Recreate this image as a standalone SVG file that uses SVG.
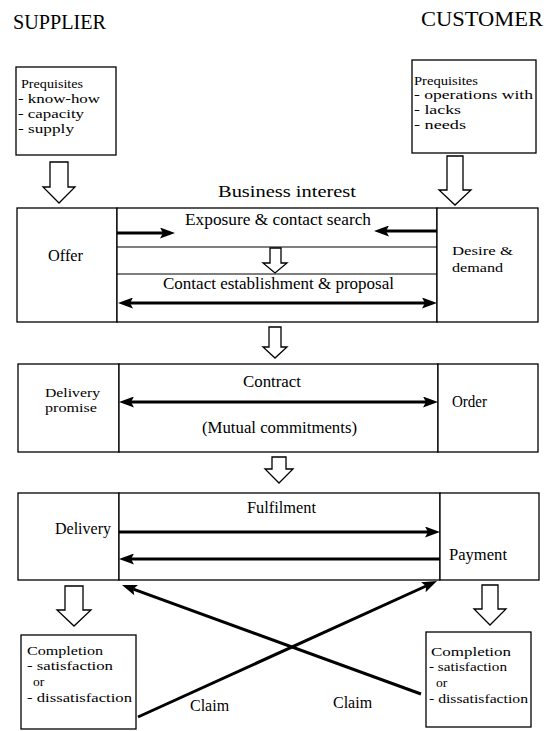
<svg xmlns="http://www.w3.org/2000/svg" width="548" height="731" viewBox="0 0 548 731">
  <style>
    text { font-family: "Liberation Serif", "Times New Roman", serif; font-size: 16px; fill: #000; }
    .head { font-size: 20px; }
    .sm { font-size: 13.5px; }
    .box { fill: #fff; stroke: #000; stroke-width: 1.3; }
    .rule { stroke: #000; stroke-width: 1.2; fill: none; }
    .flow { fill: #fff; stroke: #000; stroke-width: 1.3; stroke-linejoin: miter; }
    .thick { stroke: #000; stroke-width: 3; fill: none; }
    .one { marker-end: url(#head); }
    .two { marker-start: url(#head); marker-end: url(#head); }
  </style>
  <defs>
    <marker id="head" markerUnits="userSpaceOnUse" markerWidth="15" markerHeight="11" refX="3" refY="5.5" orient="auto-start-reverse">
      <path d="M0,0 L15,5.5 L0,11 L3,5.5 Z" fill="#000"/>
    </marker>
  </defs>
  <rect width="548" height="731" fill="#fff"/>

  <!-- column headings -->
  <g id="supplier-heading">
    <text class="head" x="13" y="29" textLength="93" lengthAdjust="spacingAndGlyphs">SUPPLIER</text>
  </g>
  <g id="customer-heading">
    <text class="head" x="421" y="26" textLength="122" lengthAdjust="spacingAndGlyphs">CUSTOMER</text>
  </g>

  <!-- prerequisites -->
  <g id="supplier-prequisites">
    <rect class="box" x="16" y="67" width="100" height="88"/>
    <text class="sm" x="21" y="88" textLength="62" lengthAdjust="spacingAndGlyphs">Prequisites</text>
    <text class="sm" x="18" y="103" textLength="82" lengthAdjust="spacingAndGlyphs">- know-how</text>
    <text class="sm" x="18" y="118" textLength="66" lengthAdjust="spacingAndGlyphs">- capacity</text>
    <text class="sm" x="18" y="133" textLength="56" lengthAdjust="spacingAndGlyphs">- supply</text>
  </g>
  <g id="customer-prequisites">
    <rect class="box" x="412" y="60" width="124" height="93"/>
    <text class="sm" x="414" y="85" textLength="64" lengthAdjust="spacingAndGlyphs">Prequisites</text>
    <text class="sm" x="414" y="99" textLength="119" lengthAdjust="spacingAndGlyphs">- operations with</text>
    <text class="sm" x="414" y="114" textLength="47" lengthAdjust="spacingAndGlyphs">- lacks</text>
    <text class="sm" x="414" y="129" textLength="52" lengthAdjust="spacingAndGlyphs">- needs</text>
  </g>

  <g id="business-interest">
    <text x="218" y="197" textLength="138" lengthAdjust="spacingAndGlyphs">Business interest</text>
  </g>

  <!-- stage 1: contact -->
  <g id="offer">
    <rect class="box" x="17" y="208" width="100" height="114"/>
    <text x="48" y="261" textLength="35" lengthAdjust="spacingAndGlyphs">Offer</text>
  </g>
  <g id="contact-channel">
    <rect class="box" x="117" y="208" width="320" height="114"/>
    <line class="rule" x1="117" y1="247" x2="437" y2="247"/>
    <line class="rule" x1="117" y1="274" x2="437" y2="274"/>
    <text x="185" y="225" textLength="186" lengthAdjust="spacingAndGlyphs">Exposure &amp; contact search</text>
    <text x="163" y="289" textLength="231" lengthAdjust="spacingAndGlyphs">Contact establishment &amp; proposal</text>
  </g>
  <g id="desire-demand">
    <rect class="box" x="437" y="208" width="101" height="114"/>
    <text class="sm" x="452" y="255" textLength="61" lengthAdjust="spacingAndGlyphs">Desire &amp;</text>
    <text class="sm" x="452" y="272" textLength="51" lengthAdjust="spacingAndGlyphs">demand</text>
  </g>

  <!-- stage 2: contract -->
  <g id="delivery-promise">
    <rect class="box" x="18" y="364" width="101" height="88"/>
    <text class="sm" x="45" y="397" textLength="55" lengthAdjust="spacingAndGlyphs">Delivery</text>
    <text class="sm" x="45" y="412" textLength="52" lengthAdjust="spacingAndGlyphs">promise</text>
  </g>
  <g id="contract">
    <rect class="box" x="119" y="364" width="319" height="88"/>
    <text x="243" y="387" textLength="58" lengthAdjust="spacingAndGlyphs">Contract</text>
    <text x="202" y="433" textLength="155" lengthAdjust="spacingAndGlyphs">(Mutual commitments)</text>
  </g>
  <g id="order">
    <rect class="box" x="438" y="364" width="100" height="88"/>
    <text x="452" y="407" textLength="35" lengthAdjust="spacingAndGlyphs">Order</text>
  </g>

  <!-- stage 3: fulfilment -->
  <g id="delivery">
    <rect class="box" x="18" y="493" width="101" height="87"/>
    <text x="55" y="534" textLength="56" lengthAdjust="spacingAndGlyphs">Delivery</text>
  </g>
  <g id="fulfilment">
    <rect class="box" x="119" y="493" width="321" height="87"/>
    <text x="247" y="513" textLength="69" lengthAdjust="spacingAndGlyphs">Fulfilment</text>
  </g>
  <g id="payment">
    <rect class="box" x="440" y="493" width="99" height="87"/>
    <text x="449" y="560" textLength="58" lengthAdjust="spacingAndGlyphs">Payment</text>
  </g>

  <!-- completion -->
  <g id="supplier-completion">
    <rect class="box" x="21" y="635" width="115" height="94"/>
    <text class="sm" x="27" y="655" textLength="76" lengthAdjust="spacingAndGlyphs">Completion</text>
    <text class="sm" x="27" y="670" textLength="86" lengthAdjust="spacingAndGlyphs">- satisfaction</text>
    <text class="sm" x="33" y="686">or</text>
    <text class="sm" x="27" y="702" textLength="105" lengthAdjust="spacingAndGlyphs">- dissatisfaction</text>
  </g>
  <g id="customer-completion">
    <rect class="box" x="426" y="632" width="105" height="95"/>
    <text class="sm" x="431" y="656" textLength="80" lengthAdjust="spacingAndGlyphs">Completion</text>
    <text class="sm" x="429" y="671" textLength="78" lengthAdjust="spacingAndGlyphs">- satisfaction</text>
    <text class="sm" x="436" y="687">or</text>
    <text class="sm" x="429" y="703" textLength="99" lengthAdjust="spacingAndGlyphs">- dissatisfaction</text>
  </g>

  <!-- connectors -->
  <g id="connectors">
    <!-- hollow flow arrows -->
    <path class="flow" d="M50,162 H68 V187 H75 L59,203 L43,187 H50 Z"/>
    <path class="flow" d="M447,156 H463 V190 H471 L455,205 L439,190 H447 Z"/>
    <path class="flow" d="M270,248 H281 V263 H287 L275,273 L263,263 H270 Z"/>
    <path class="flow" d="M269,327 H281 V347 H287 L275,358 L263,347 H269 Z"/>
    <path class="flow" d="M272,457 H286 V469 H293 L279,483 L265,469 H272 Z"/>
    <path class="flow" d="M65,586 H83 V610 H91 L74,626 L57,610 H65 Z"/>
    <path class="flow" d="M482,585 H498 V609 H506 L490,625 L474,609 H482 Z"/>

    <!-- solid arrows -->
    <line class="thick one" x1="117" y1="233" x2="163" y2="233"/>
    <line class="thick one" x1="437" y1="231" x2="386" y2="231"/>
    <line class="thick two" x1="130" y1="303" x2="425" y2="303"/>
    <line class="thick two" x1="131" y1="402" x2="426" y2="402"/>
    <line class="thick one" x1="119" y1="532" x2="428" y2="532"/>
    <line class="thick one" x1="440" y1="559" x2="131" y2="559"/>

    <!-- claims -->
    <line class="thick one" x1="138" y1="717" x2="426.1" y2="586"/>
    <line class="thick one" x1="421" y1="694" x2="133.3" y2="589.1"/>
    <text x="190" y="711">Claim</text>
    <text x="333" y="708">Claim</text>
  </g>
</svg>
